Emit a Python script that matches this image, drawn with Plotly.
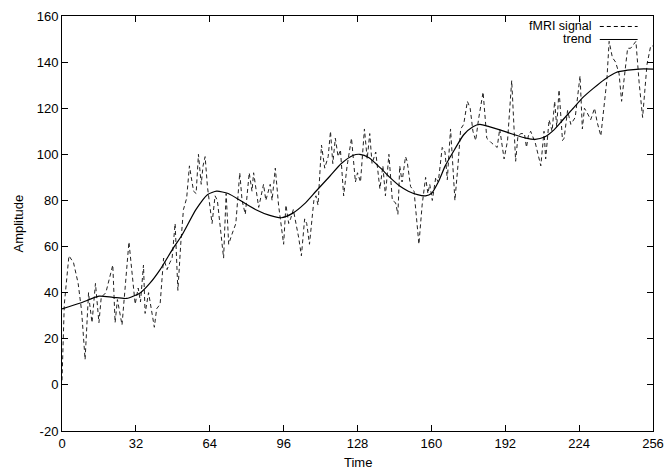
import plotly.graph_objects as go

# fMRI signal (time, amplitude)
signal_t = [0, 1, 3, 5, 7, 8.5, 10, 11.5, 12, 13, 14.5, 16, 17, 19, 22, 23, 24, 26, 29, 31.7,
            33, 34, 35.3, 36, 37.5, 39, 40, 41, 42.5, 44, 45.5, 46.7, 47.7, 49, 50.2, 51.5, 52.6, 54,
            55.2, 56, 57, 58.1, 59.1, 60.3, 61.1, 62, 63, 65, 66.3, 67.3, 68, 70, 71.1, 72.2, 73.5,
            75.3, 77, 78, 79.4, 81.1, 82.3, 83, 85.2, 87.3, 88.3, 90.2, 91, 92.4, 93.8, 95, 96, 97,
            98.2, 99, 100.2, 102.5, 103.7, 105.1, 106, 107.2, 109.1, 110, 110.9, 112.4, 113.8, 115.3,
            116.3, 117.3, 118.4, 119.6, 120.6, 122, 123.5, 125.4, 127.1, 128, 129.3, 131, 132.2, 133.3,
            134.3, 135.9, 137.7, 139, 140.1, 141.6, 143.1, 144.5, 145.5, 146.3, 147.3, 148.8, 149.5,
            151, 152.5, 154.6, 156, 157.5, 158.5, 159.3, 160.4, 161.9, 163, 164.7, 165.9, 166.9, 168.3,
            169, 170.2, 171.5, 172.7, 174, 175.6, 176.8, 178, 179.2, 180.4, 182.4, 184, 186, 188.5,
            189.6, 190.5, 191.5, 193, 194.8, 196.5, 197.5, 198.8, 200.3, 201.2, 202, 203, 205, 207.4,
            208.8, 209.5, 211, 212.3, 213.4, 214.3, 215.3, 216.8, 217.5, 219, 220.4, 222.3, 224.4,
            225.4, 226.3, 227.5, 229, 230.7, 231.8, 233.4, 234.9, 236, 237, 238.4, 239.8, 241.3,
            242.4, 243.4, 245, 246.3, 248.6, 250, 251.5, 253.4, 255, 256]
signal_v = [2, 35, 56, 53, 44, 32, 11, 40, 35, 27, 44, 27, 38, 40, 52, 27, 37, 26, 62, 35,
            42, 36, 52, 31, 40, 32, 25, 33, 35, 55, 50, 53, 55, 70, 41, 62, 76, 81,
            95, 90, 84, 83, 100, 87, 95, 99, 86, 70, 82, 80, 74, 55, 83, 61, 65,
            70, 92, 80, 74, 92, 84, 92, 77, 87, 80, 87, 80, 94, 78, 69, 61, 78,
            70, 72, 76, 64, 56, 72, 70, 61, 80, 82, 78, 104, 94, 99,
            110, 96, 107, 99, 102, 82, 95, 107, 88, 92, 88, 111, 98, 109,
            96, 101, 85, 95, 82, 100, 80, 79, 74, 95, 88, 99, 97,
            86, 84, 61, 78, 90, 83, 87, 80, 90, 88, 103, 101, 89, 111,
            100, 80, 95, 111, 113, 123, 120, 110, 106, 115, 127, 107, 105, 103,
            111, 105, 98, 106, 132, 97, 108, 109, 109, 103, 108, 110, 105, 95,
            110, 98, 115, 110, 123, 112, 128, 106, 107, 119, 113, 116, 134,
            111, 120, 118, 115, 120, 114, 108, 123, 132, 149, 142, 140, 135,
            123, 133, 146, 146, 149, 131, 116, 139, 147, 147]

# smooth trend (time, amplitude)
trend_t = [0, 8, 16, 22, 28, 34, 38, 42.5, 48, 52, 58, 63, 67, 72, 78, 84, 90, 95, 100, 105,
           110, 116, 121, 126, 129, 133, 138, 142, 146.6, 150, 154, 157.5, 160, 163, 166, 170,
           174, 178, 181, 185, 190, 196, 201, 205, 209, 213, 217, 221, 226, 230, 235, 240, 245,
           250, 256]
trend_v = [33, 35.5, 38.5, 38, 37.5, 40, 44, 50, 59, 65, 76, 82.5, 84, 83, 79.5, 76, 73.5, 72.5,
           74.5, 78.5, 84, 90.5, 96, 99.5, 100, 98.5, 94, 90, 86, 84, 82.5, 82, 83, 88, 95, 102,
           108.5, 112, 113, 112, 110.5, 108.5, 107, 106.5, 107.5, 110.5, 115, 119.5, 125, 128.5,
           132.5, 135.5, 136.5, 137, 137]

x_ticks = [0, 32, 64, 96, 128, 160, 192, 224, 256]
y_ticks = [-20, 0, 20, 40, 60, 80, 100, 120, 140, 160]

font = "Liberation Sans, Arial, Helvetica, sans-serif"

fig = go.Figure()
fig.add_trace(go.Scatter(x=signal_t, y=signal_v, mode="lines", name="fMRI signal",
                         line=dict(color="#222222", width=1, dash="4px,3px"),
                         showlegend=False))
fig.add_trace(go.Scatter(x=trend_t, y=trend_v, mode="lines", name="trend",
                         line=dict(color="black", width=1.2, shape="spline", smoothing=0.6),
                         showlegend=False))

axis_common = dict(showline=True, linecolor="black", linewidth=1, mirror="allticks",
                   ticks="inside", ticklen=6, tickcolor="black", showgrid=False,
                   zeroline=False, automargin=False,
                   tickfont=dict(family=font, size=13, color="black"))

fig.update_layout(
    width=665, height=469,
    margin=dict(l=62, r=12, t=16, b=38),
    paper_bgcolor="white", plot_bgcolor="white",
    font=dict(family=font, size=13, color="black"),
    xaxis=dict(range=[0, 256], tickvals=x_ticks, ticktext=[str(v) for v in x_ticks],
               **axis_common),
    yaxis=dict(range=[-20, 160], tickvals=y_ticks, ticktext=[str(v) for v in y_ticks],
               **axis_common),
)

# axis titles
fig.add_annotation(x=0.5, y=0, xref="paper", yref="paper", yshift=-31, text="Time",
                   showarrow=False, xanchor="center", yanchor="middle",
                   font=dict(family=font, size=13, color="black"))
fig.add_annotation(x=0, y=0.5, xref="paper", yref="paper", xshift=-44, text="Amplitude",
                   showarrow=False, xanchor="center", yanchor="middle", textangle=-90,
                   font=dict(family=font, size=13, color="black"))

# gnuplot-style key: text then sample line
legend_rows = [("fMRI signal", 0.9747, "4px,3px"), ("trend", 0.9434, "solid")]
for label, yy, dash in legend_rows:
    fig.add_annotation(x=0.899, y=yy, xref="paper", yref="paper", text=label,
                       showarrow=False, xanchor="right", yanchor="middle", borderpad=0,
                       font=dict(family=font, size=12.5, color="black"))
    fig.add_shape(type="line", xref="paper", yref="paper", x0=0.910, x1=0.974,
                  y0=yy, y1=yy, line=dict(color="black", width=1, dash=dash))

fig.write_html("out.html", config={"displayModeBar": False},
               post_script="document.body.style.margin='0';document.body.style.overflow='hidden';")
